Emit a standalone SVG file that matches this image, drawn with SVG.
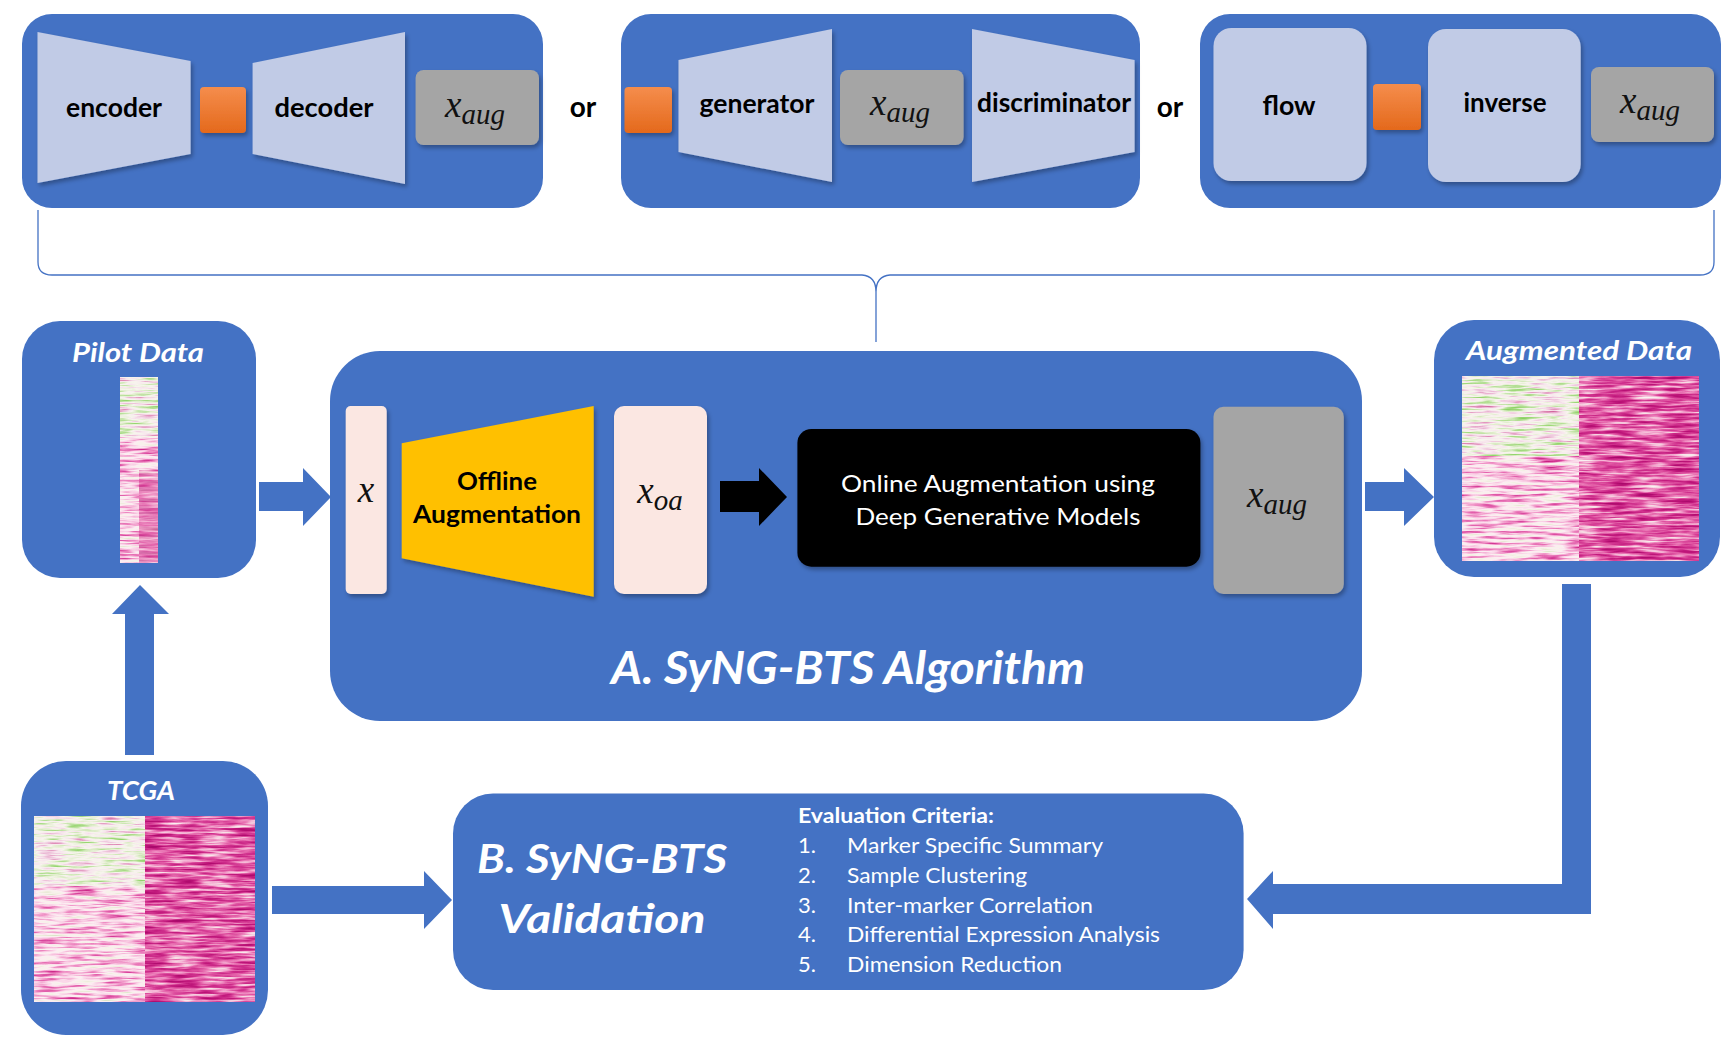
<svg xmlns="http://www.w3.org/2000/svg" width="1732" height="1046" viewBox="0 0 1732 1046">
<style>
.panel{fill:#4472C4}
.lb{fill:#C1CBE6}
.og{fill:url(#ogr)}
.gr{fill:#A5A5A5}
.pk{fill:#FBE7E2}
.t{font-family:Lato,'Liberation Sans',sans-serif}
.b{font-weight:700}
.i{font-style:italic}
.m{font-family:'Liberation Serif',serif;font-style:italic;font-size:37px;fill:#111}
.w{fill:#fff}
.k{fill:#000}
.ar{fill:#4472C4}
.sh{filter:url(#sh)}
</style>
<defs>
<linearGradient id="ogr" x1="0" y1="0" x2="0" y2="1">
<stop offset="0" stop-color="#F58D4C"/>
<stop offset="1" stop-color="#E4691C"/>
</linearGradient>
<filter id="sh" x="-10%" y="-10%" width="130%" height="130%">
<feDropShadow dx="2" dy="3" stdDeviation="2" flood-color="#000" flood-opacity="0.3"/>
</filter>
<filter id="hmG" x="0" y="0" width="1" height="1" color-interpolation-filters="sRGB">
<feTurbulence type="fractalNoise" baseFrequency="0.03 0.35" numOctaves="3" seed="4"/>
<feColorMatrix type="matrix" values="1 0 0 0 0 1 0 0 0 0 1 0 0 0 0 0 0 0 0 1"/>
<feComponentTransfer>
<feFuncR type="table" tableValues="0.45 0.5 0.6 0.72 0.88 0.97 0.97 0.93 0.88 0.82 0.8"/>
<feFuncG type="table" tableValues="0.78 0.8 0.84 0.88 0.93 0.96 0.9 0.75 0.55 0.4 0.4"/>
<feFuncB type="table" tableValues="0.3 0.35 0.45 0.6 0.8 0.93 0.93 0.85 0.72 0.62 0.6"/>
</feComponentTransfer>
<feComposite operator="in" in2="SourceGraphic"/>
</filter>
<filter id="hmL" x="0" y="0" width="1" height="1" color-interpolation-filters="sRGB">
<feTurbulence type="fractalNoise" baseFrequency="0.03 0.35" numOctaves="3" seed="9"/>
<feColorMatrix type="matrix" values="1 0 0 0 0 1 0 0 0 0 1 0 0 0 0 0 0 0 0 1"/>
<feComponentTransfer>
<feFuncR type="table" tableValues="0.8 0.85 0.92 0.97 0.99 0.98 0.95 0.9 0.84 0.78 0.75"/>
<feFuncG type="table" tableValues="0.9 0.9 0.92 0.95 0.93 0.82 0.62 0.42 0.25 0.12 0.1"/>
<feFuncB type="table" tableValues="0.75 0.78 0.85 0.92 0.95 0.9 0.8 0.7 0.6 0.5 0.48"/>
</feComponentTransfer>
<feComposite operator="in" in2="SourceGraphic"/>
</filter>
<filter id="hmR" x="0" y="0" width="1" height="1" color-interpolation-filters="sRGB">
<feTurbulence type="fractalNoise" baseFrequency="0.03 0.35" numOctaves="3" seed="17"/>
<feColorMatrix type="matrix" values="1 0 0 0 0 1 0 0 0 0 1 0 0 0 0 0 0 0 0 1"/>
<feComponentTransfer>
<feFuncR type="table" tableValues="0.98 0.98 0.97 0.96 0.93 0.88 0.82 0.76 0.7 0.66 0.65"/>
<feFuncG type="table" tableValues="0.96 0.95 0.88 0.72 0.52 0.34 0.2 0.1 0.05 0.04 0.04"/>
<feFuncB type="table" tableValues="0.96 0.95 0.9 0.84 0.74 0.64 0.56 0.49 0.44 0.42 0.42"/>
</feComponentTransfer>
<feComposite operator="in" in2="SourceGraphic"/>
</filter>
</defs>
<rect width="1732" height="1046" fill="#fff"/>

<!-- Top panel 1: VAE -->
<g id="panel-vae">
<rect class="panel" x="22" y="14" width="521" height="194" rx="30"/>
<polygon class="lb sh" points="37.5,32 190.6,61 190.6,154 37.5,183"/>
<rect class="og sh" x="200" y="87" width="46" height="46" rx="4"/>
<polygon class="lb sh" points="252.6,63 405,32 405,184 252.6,154"/>
<rect class="gr sh" x="415.6" y="70" width="123.4" height="75" rx="8"/>
<text class="t b k" x="114" y="117" font-size="26" text-anchor="middle" textLength="96" lengthAdjust="spacingAndGlyphs">encoder</text>
<text class="t b k" x="324" y="117" font-size="26" text-anchor="middle" textLength="99" lengthAdjust="spacingAndGlyphs">decoder</text>
<text class="m" x="475" y="117" text-anchor="middle">x<tspan font-size="29" dy="7">aug</tspan></text>
</g>
<text class="t b k" x="583" y="117" font-size="28" text-anchor="middle">or</text>

<!-- Top panel 2: GAN -->
<g id="panel-gan">
<rect class="panel" x="621" y="14" width="519" height="194" rx="30"/>
<rect class="og sh" x="624.5" y="87" width="47.5" height="46" rx="4"/>
<polygon class="lb sh" points="678.5,60 832,29 832,182 678.5,152"/>
<rect class="gr sh" x="840" y="70" width="123.6" height="75" rx="8"/>
<polygon class="lb sh" points="972,29 1134.6,60 1134.6,152 972,182"/>
<text class="t b k" x="757" y="113" font-size="26" text-anchor="middle" textLength="115" lengthAdjust="spacingAndGlyphs">generator</text>
<text class="t b k" x="1054" y="112" font-size="26" text-anchor="middle" textLength="154" lengthAdjust="spacingAndGlyphs">discriminator</text>
<text class="m" x="900" y="115" text-anchor="middle">x<tspan font-size="29" dy="7">aug</tspan></text>
</g>
<text class="t b k" x="1170" y="117" font-size="28" text-anchor="middle">or</text>

<!-- Top panel 3: Flow -->
<g id="panel-flow">
<rect class="panel" x="1200" y="14" width="521" height="194" rx="30"/>
<rect class="lb sh" x="1213.5" y="28" width="153" height="153" rx="18"/>
<rect class="og sh" x="1373" y="84" width="48" height="46" rx="4"/>
<rect class="lb sh" x="1428" y="29" width="152.7" height="153" rx="18"/>
<rect class="gr sh" x="1591" y="67" width="123" height="75" rx="8"/>
<text class="t b k" x="1289" y="115" font-size="26" text-anchor="middle" textLength="53" lengthAdjust="spacingAndGlyphs">flow</text>
<text class="t b k" x="1505" y="112" font-size="26" text-anchor="middle" textLength="83" lengthAdjust="spacingAndGlyphs">inverse</text>
<text class="m" x="1650" y="113" text-anchor="middle">x<tspan font-size="29" dy="7">aug</tspan></text>
</g>

<!-- Pilot Data -->
<g id="pilot-data">
<rect class="panel" x="22" y="321" width="234" height="257" rx="38"/>
<text class="t b i w" x="138" y="362" font-size="26" text-anchor="middle" textLength="132" lengthAdjust="spacingAndGlyphs">Pilot Data</text>
<rect x="120" y="377" width="38" height="186" fill="#fff"/>
<rect x="120" y="377" width="38" height="60" filter="url(#hmG)"/>
<rect x="120" y="437" width="38" height="126" filter="url(#hmL)"/>
<rect x="139" y="470" width="19" height="93" filter="url(#hmR)" opacity="0.6"/>
</g>

<!-- Algorithm A -->
<g id="algorithm-a">
<rect class="panel" x="330" y="351" width="1032" height="370" rx="50"/>
<rect class="pk sh" x="345.7" y="406" width="41" height="188" rx="5"/>
<text class="m" x="366" y="502" font-size="38" text-anchor="middle">x</text>
<polygon fill="#FFC000" class="sh" points="401.7,443.3 593.7,406 593.7,596.7 401.7,558.3"/>
<text class="t b k" x="497" y="490" font-size="25" text-anchor="middle" textLength="80" lengthAdjust="spacingAndGlyphs">Offline</text>
<text class="t b k" x="497" y="523" font-size="25" text-anchor="middle" textLength="168" lengthAdjust="spacingAndGlyphs">Augmentation</text>
<rect class="pk sh" x="614" y="406" width="93" height="188" rx="10"/>
<text class="m" x="660" y="503" text-anchor="middle">x<tspan font-size="29" dy="7">oa</tspan></text>
<rect class="sh" x="797.4" y="429" width="403" height="137.7" rx="14" fill="#000"/>
<text class="t w" x="998" y="492" font-size="24" text-anchor="middle" textLength="314" lengthAdjust="spacingAndGlyphs">Online Augmentation using</text>
<text class="t w" x="998" y="525" font-size="24" text-anchor="middle" textLength="285" lengthAdjust="spacingAndGlyphs">Deep Generative Models</text>
<rect class="gr sh" x="1213.5" y="406.7" width="130.3" height="187.3" rx="10"/>
<text class="m" x="1277" y="507" text-anchor="middle">x<tspan font-size="29" dy="7">aug</tspan></text>
<text class="t b i w" x="848" y="684" font-size="46" text-anchor="middle" textLength="474" lengthAdjust="spacingAndGlyphs">A. SyNG-BTS Algorithm</text>
</g>

<!-- Augmented Data -->
<g id="augmented-data">
<rect class="panel" x="1434" y="320" width="286" height="257" rx="40"/>
<text class="t b i w" x="1579" y="360" font-size="26" text-anchor="middle" textLength="226" lengthAdjust="spacingAndGlyphs">Augmented Data</text>
<rect x="1462" y="376" width="237" height="185" fill="#fff"/>
<rect x="1462" y="376" width="117" height="80" filter="url(#hmG)"/>
<rect x="1462" y="456" width="117" height="105" filter="url(#hmL)"/>
<rect x="1579" y="376" width="120" height="185" filter="url(#hmR)"/>
</g>

<!-- TCGA -->
<g id="tcga">
<rect class="panel" x="21" y="761" width="247" height="274" rx="45"/>
<text class="t b i w" x="141" y="800" font-size="26" text-anchor="middle" textLength="68" lengthAdjust="spacingAndGlyphs">TCGA</text>
<rect x="34" y="816" width="221" height="186" fill="#fff"/>
<rect x="34" y="816" width="111" height="70" filter="url(#hmG)"/>
<rect x="34" y="886" width="111" height="116" filter="url(#hmL)"/>
<rect x="145" y="816" width="110" height="186" filter="url(#hmR)"/>
</g>

<!-- Validation B -->
<g id="validation-b">
<rect class="panel" x="453" y="793.5" width="790.6" height="196.5" rx="40"/>
<text class="t b i w" x="602" y="873" font-size="40" text-anchor="middle" textLength="250" lengthAdjust="spacingAndGlyphs">B. SyNG-BTS</text>
<text class="t b i w" x="602" y="933" font-size="40" text-anchor="middle" textLength="207" lengthAdjust="spacingAndGlyphs">Validation</text>
<text class="t b w" x="798" y="823" font-size="21" textLength="196" lengthAdjust="spacingAndGlyphs">Evaluation Criteria:</text>
<g class="t w" font-size="22">
<text x="798" y="853">1.</text><text x="847" y="853" textLength="256" lengthAdjust="spacingAndGlyphs">Marker Specific Summary</text>
<text x="798" y="883">2.</text><text x="847" y="883" textLength="180" lengthAdjust="spacingAndGlyphs">Sample Clustering</text>
<text x="798" y="913">3.</text><text x="847" y="913" textLength="246" lengthAdjust="spacingAndGlyphs">Inter-marker Correlation</text>
<text x="798" y="942">4.</text><text x="847" y="942" textLength="313" lengthAdjust="spacingAndGlyphs">Differential Expression Analysis</text>
<text x="798" y="972">5.</text><text x="847" y="972" textLength="215" lengthAdjust="spacingAndGlyphs">Dimension Reduction</text>
</g>
</g>

<!-- Connectors -->
<g id="connectors">
<path d="M38,210 V262 Q38,275 52,275 H862 Q876,276 876,292 V342 M876,292 Q876,276 890,275 H1700 Q1714,275 1714,262 V210" fill="none" stroke="#4472C4" stroke-width="1.3"/>
<polygon class="ar" points="259,482 303,482 303,468 331,497 303,526 303,511 259,511"/>
<polygon fill="#000" points="720,481 759,481 759,468 787,497 759,526 759,512 720,512"/>
<polygon class="ar" points="1365,482 1404,482 1404,468 1434,497 1404,526 1404,511 1365,511"/>
<polygon class="ar" points="1562,584 1591,584 1591,914 1273,914 1273,929 1247,899 1273,871 1273,884 1562,884"/>
<polygon class="ar" points="272,886 424,886 424,871 452,900 424,929 424,914 272,914"/>
<polygon class="ar" points="125,755 125,614 112,614 140,585 169,614 154,614 154,755"/>
</g>
</svg>
